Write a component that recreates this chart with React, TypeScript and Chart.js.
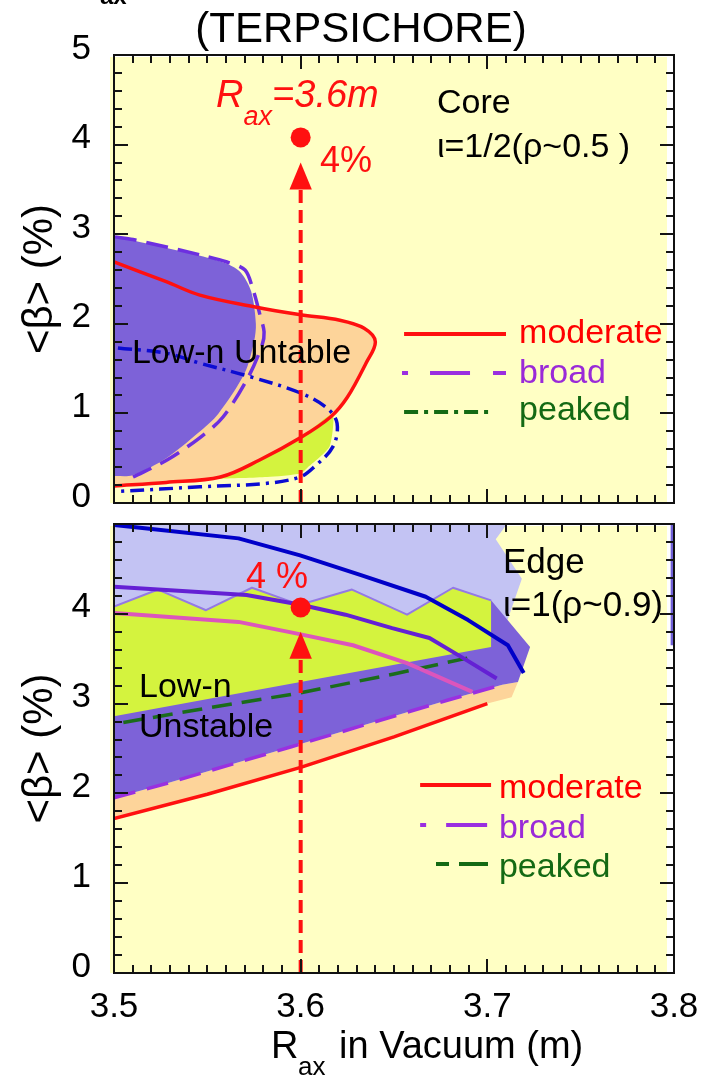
import React, { useEffect, useRef } from "react";
import { Chart, registerables } from "chart.js";

Chart.register(...registerables);

const FONT = "'Liberation Sans', Arial, Helvetica, sans-serif";

// ---------- axes ----------
const X_MIN = 3.5;
const X_MAX = 3.8;
const X_STEP = 0.1;
const X_MINOR = 0.01;
const Y_MIN = 0;
const Y_MAX = 5;
const Y_STEP = 1;
const Y_MINOR = 0.2;

// ---------- Core panel (top) ----------
const coreModerateX = [3.5, 3.528, 3.546, 3.575, 3.6, 3.621, 3.634, 3.64, 3.635, 3.625, 3.616, 3.6, 3.578, 3.557, 3.528, 3.5];
const coreModerateY = [2.69, 2.47, 2.32, 2.19, 2.1, 2.04, 1.95, 1.8, 1.56, 1.18, 0.96, 0.73, 0.48, 0.29, 0.23, 0.19];

const coreBroadRegionX = [3.5, 3.5102, 3.5461, 3.5605, 3.568, 3.5735, 3.576, 3.575, 3.57, 3.556, 3.545, 3.528, 3.51, 3.5];
const coreBroadRegionY = [2.97, 2.93, 2.76, 2.67, 2.57, 2.36, 2.0, 1.8, 1.45, 1.0, 0.78, 0.5, 0.31, 0.3];

const coreBroadX = [3.5005, 3.5102, 3.5461, 3.5605, 3.5702, 3.5745, 3.5782, 3.5804, 3.5793, 3.5718, 3.5584, 3.5461, 3.5284, 3.5102];
const coreBroadY = [2.97, 2.94, 2.77, 2.69, 2.6, 2.38, 2.1, 1.91, 1.76, 1.4, 0.96, 0.73, 0.48, 0.29];

const corePeakedRegionX = [3.555, 3.582, 3.6, 3.6035, 3.6155, 3.617, 3.6, 3.578, 3.557];
const corePeakedRegionY = [0.27, 0.29, 0.33, 0.39, 0.63, 0.99, 0.73, 0.48, 0.29];

const coreBoundaryX = [3.5021, 3.5284, 3.5461, 3.5729, 3.5996, 3.6141, 3.6195, 3.6173, 3.6066, 3.5996, 3.582, 3.5461, 3.5032];
const coreBoundaryY = [1.73, 1.67, 1.56, 1.41, 1.23, 1.06, 0.89, 0.63, 0.39, 0.29, 0.22, 0.18, 0.13];

// ---------- Edge panel (bottom) ----------
const edgeLavenderX = [3.5, 3.7105, 3.7045, 3.7185, 3.712, 3.705, 3.5];
const edgeLavenderY = [5.0, 5.0, 4.83, 4.39, 4.0, 3.6, 3.6];

const edgeSliverX = [3.7982, 3.8, 3.8, 3.7982];
const edgeSliverY = [5.0, 5.0, 3.65, 3.65];

const edgeZigzagX = [3.5, 3.5236, 3.5493, 3.5739, 3.5996, 3.6275, 3.657, 3.6816, 3.702];
const edgeZigzagY = [4.08, 4.27, 4.04, 4.29, 4.1, 4.27, 3.99, 4.29, 4.15];

const edgeBroadRightX = [3.7229, 3.7164];
const edgeBroadRightY = [3.63, 3.24];

const edgeBroadDashX = [3.5, 3.528, 3.595, 3.679, 3.708];
const edgeBroadDashY = [1.95, 2.11, 2.52, 3.04, 3.21];

const edgePeakedX = [3.505, 3.55, 3.6, 3.65, 3.69];
const edgePeakedY = [2.79, 2.95, 3.12, 3.33, 3.51];

const edgePeakedRegionCornerX = [3.702, 3.5];
const edgePeakedRegionCornerY = [3.63, 2.86];

const edgeModerateX = [3.5, 3.55, 3.6, 3.65, 3.7];
const edgeModerateY = [1.72, 1.99, 2.29, 2.63, 3.0];

const edgeOrangeRightX = [3.7164, 3.713];
const edgeOrangeRightY = [3.24, 3.07];

const edgeBlueX = [3.5, 3.5667, 3.5997, 3.6323, 3.667, 3.6897, 3.711, 3.7195];
const edgeBlueY = [4.99, 4.84, 4.65, 4.43, 4.19, 3.93, 3.65, 3.34];

const edgeBroadLineX = [3.5, 3.571, 3.6, 3.624, 3.649, 3.669, 3.686, 3.705];
const edgeBroadLineY = [4.3, 4.21, 4.1, 3.99, 3.84, 3.73, 3.52, 3.28];

const edgePinkX = [3.5, 3.5667, 3.5955, 3.628, 3.657, 3.692];
const edgePinkY = [4.01, 3.91, 3.79, 3.65, 3.45, 3.13];

// ---------- target markers (R_ax = 3.6 m, 4 %) ----------
const targetX = 3.6;
const coreDotY = 4.08;
const edgeDotY = 4.07;
const arrowTipY = 3.8;
const arrowBaseY = 3.5;
const arrowHalfW = 0.006;

// ---------- colours ----------
const BG = "#ffffc4";
const ORANGE = "#fdd49a";
const PURPLE_FILL = "#7d62d8";
const GREEN_FILL = "#d4f33e";
const LAVENDER = "#c3c3f3";
const RED = "#ff1010";
const NONE = "rgba(0,0,0,0)";

type P = { x: number; y: number };
const pts = (xs: number[], ys: number[]): P[] => xs.map((x, i) => ({ x, y: ys[i] }));

const region = (data: P[], color: string, order: number, tension = 0) => ({
  data,
  borderColor: NONE,
  borderWidth: 1,
  backgroundColor: color,
  fill: "shape",
  pointRadius: 0,
  tension,
  order,
});

const curve = (data: P[], color: string, width: number, dash: number[], order: number, tension = 0) => ({
  data,
  borderColor: color,
  borderWidth: width,
  borderDash: dash,
  borderJoinStyle: "round",
  backgroundColor: NONE,
  fill: false,
  pointRadius: 0,
  tension,
  order,
});

const dot = (y: number, order: number) => ({
  data: [{ x: targetX, y }],
  showLine: false,
  pointRadius: 10,
  pointBackgroundColor: RED,
  pointBorderColor: RED,
  pointBorderWidth: 0,
  fill: false,
  order,
});

const arrowHead = (order: number) =>
  region(
    pts([targetX - arrowHalfW, targetX, targetX + arrowHalfW], [arrowBaseY, arrowTipY, arrowBaseY]),
    RED,
    order
  );

const arrowShaft = (order: number) =>
  curve(pts([targetX, targetX], [Y_MIN, arrowBaseY]), RED, 4, [13, 7], order);

// ---------- text / legend helpers ----------
type Seg = { t: string; size: number; italic?: boolean; bold?: boolean; dy?: number };
type Note = { x: number; y: number; color: string; segs: Seg[] };
type LegendRow = { label: string; color: string; text: string; dash: number[]; y: number; ty: number; x0?: number; x1?: number };

function drawRich(ctx: CanvasRenderingContext2D, px: number, py: number, color: string, segs: Seg[]) {
  let cx = px;
  ctx.fillStyle = color;
  ctx.textAlign = "left";
  ctx.textBaseline = "alphabetic";
  for (const s of segs) {
    ctx.font = `${s.italic ? "italic " : ""}${s.bold ? "bold " : ""}${s.size}px ${FONT}`;
    ctx.fillText(s.t, cx, py + (s.dy || 0));
    cx += ctx.measureText(s.t).width;
  }
}

function drawFrameAndTicks(chart: any) {
  const ctx: CanvasRenderingContext2D = chart.ctx;
  const a = chart.chartArea;
  const sx = chart.scales.x;
  const sy = chart.scales.y;
  ctx.save();
  ctx.fillStyle = "#141414";
  const nx = Math.round((X_MAX - X_MIN) / X_MINOR);
  for (let i = 0; i <= nx; i++) {
    const px = Math.round(sx.getPixelForValue(X_MIN + i * X_MINOR));
    const len = i % 10 === 0 ? 14 : 8;
    ctx.fillRect(px - 1, a.bottom - len, 2, len);
    ctx.fillRect(px - 1, a.top, 2, len);
  }
  const ny = Math.round((Y_MAX - Y_MIN) / Y_MINOR);
  for (let i = 0; i <= ny; i++) {
    const py = Math.round(sy.getPixelForValue(Y_MIN + i * Y_MINOR));
    const len = i % 5 === 0 ? 14 : 8;
    ctx.fillRect(a.left, py - 1, len, 2);
    ctx.fillRect(a.right - len, py - 1, len, 2);
  }
  ctx.fillStyle = "#111";
  ctx.fillRect(a.left - 1, a.top - 1, a.right - a.left + 2, 2);
  ctx.fillRect(a.left - 1, a.bottom - 1, a.right - a.left + 2, 2);
  ctx.fillRect(a.left - 1, a.top - 1, 2, a.bottom - a.top + 2);
  ctx.fillRect(a.right - 1, a.top - 1, 2, a.bottom - a.top + 2);
  ctx.restore();
}

const bgPlugin = {
  id: "panelBg",
  beforeDatasetsDraw(chart: any) {
    const { ctx, chartArea: a } = chart;
    ctx.save();
    ctx.fillStyle = BG;
    ctx.fillRect(a.left - 4, a.top + 2, a.right - a.left - 3, a.bottom - a.top - 2);
    ctx.restore();
  },
};

function notesPlugin(notes: Note[], legend: LegendRow[], lx0: number, lx1: number, tx: number, extra?: (ctx: CanvasRenderingContext2D) => void) {
  return {
    id: "notes",
    afterDraw(chart: any) {
      const { ctx, scales } = chart;
      const X = (v: number) => scales.x.getPixelForValue(v);
      const Yp = (v: number) => scales.y.getPixelForValue(v);
      ctx.save();
      for (const n of notes) drawRich(ctx, X(n.x), Yp(n.y), n.color, n.segs);
      for (const r of legend) {
        ctx.save();
        ctx.strokeStyle = r.color;
        ctx.lineWidth = 4;
        ctx.lineCap = "butt";
        ctx.setLineDash(r.dash);
        ctx.beginPath();
        const y = Math.round(Yp(r.y));
        ctx.moveTo(X(r.x0 ?? lx0), y);
        ctx.lineTo(X(r.x1 ?? lx1), y);
        ctx.stroke();
        ctx.restore();
        drawRich(ctx, X(tx), Yp(r.ty), r.text, [{ t: r.label, size: 34 }]);
      }
      if (extra) extra(ctx);
      ctx.restore();
      drawFrameAndTicks(chart);
    },
  };
}

// annotation positions (data coordinates)
const coreNotes: Note[] = [
  { x: 3.5547, y: 4.42, color: RED, segs: [{ t: "R", size: 38, italic: true }, { t: "ax", size: 27, italic: true, dy: 18 }, { t: "=3.6m", size: 38, italic: true }] },
  { x: 3.6104, y: 3.69, color: RED, segs: [{ t: "4%", size: 36 }] },
  { x: 3.673, y: 4.35, color: "#000", segs: [{ t: "Core", size: 34 }] },
  { x: 3.673, y: 3.86, color: "#000", segs: [{ t: "ι=1/2(ρ~0.5 )", size: 34 }] },
  { x: 3.5096, y: 1.5625, color: "#000", segs: [{ t: "Low-n Untable", size: 34 }] },
];
const coreLegend: LegendRow[] = [
  { label: "moderate", color: RED, text: "#ff0000", dash: [], y: 1.886, ty: 1.786 },
  { label: "broad", color: "#9a2ee0", text: "#9a2ad8", dash: [6, 22, 40, 23, 40, 23], y: 1.451, ty: 1.339, x0: 3.6543 },
  { label: "peaked", color: "#146a14", text: "#146a14", dash: [14, 6, 4, 6], y: 1.016, ty: 0.926, x1: 3.7035 },
];

const edgeNotes: Note[] = [
  { x: 3.5707, y: 4.29, color: RED, segs: [{ t: "4 %", size: 36 }] },
  { x: 3.7084, y: 4.45, color: "#000", segs: [{ t: "Edge", size: 35 }] },
  { x: 3.7084, y: 3.975, color: "#000", segs: [{ t: "ι=1(ρ~0.9)", size: 35 }] },
  { x: 3.5134, y: 3.07, color: "#000", segs: [{ t: "Low-n", size: 34 }] },
  { x: 3.5134, y: 2.63, color: "#000", segs: [{ t: "Unstable", size: 34 }] },
];
const edgeLegend: LegendRow[] = [
  { label: "moderate", color: RED, text: "#ff0000", dash: [], y: 2.094, ty: 1.949 },
  { label: "broad", color: "#9a2ee0", text: "#9a2ad8", dash: [6, 20, 41, 100], y: 1.648, ty: 1.503, x1: 3.7 },
  { label: "peaked", color: "#146a14", text: "#146a14", dash: [13, 10, 29, 100], y: 1.214, ty: 1.069, x0: 3.6725, x1: 3.7005 },
];

function baseOptions(showX: boolean, padTop: number, xHeight: number, yTickCb: (v: number) => string) {
  return {
    responsive: false,
    animation: false as const,
    events: [],
    layout: { padding: { top: padTop, right: 30, left: 0, bottom: showX ? 0 : 1078 - 503 - xHeight } },
    plugins: { legend: { display: false }, tooltip: { enabled: false }, title: { display: false } },
    scales: {
      x: {
        type: "linear" as const,
        min: X_MIN,
        max: X_MAX,
        grid: { display: false },
        border: { display: false },
        ticks: {
          display: showX,
          stepSize: X_STEP,
          padding: 5,
          color: "#000",
          font: { family: FONT, size: 35, lineHeight: 1.2 },
          callback: (v: any) => Number(v).toFixed(1),
        },
        afterFit: (s: any) => {
          s.height = xHeight;
        },
      },
      y: {
        type: "linear" as const,
        min: Y_MIN,
        max: Y_MAX,
        grid: { display: false },
        border: { display: false },
        title: {
          display: true,
          text: "<β> (%)",
          color: "#000",
          font: { family: FONT, size: 42, lineHeight: 1.2 },
          padding: { top: 15, bottom: 0 },
        },
        ticks: {
          stepSize: Y_STEP,
          padding: 15,
          labelOffset: -6,
          color: "#000",
          font: { family: FONT, size: 35, lineHeight: 1.2 },
          callback: (v: any) => yTickCb(Number(v)),
        },
        afterFit: (s: any) => {
          s.width = 114;
        },
      },
    },
  };
}

function coreConfig(): any {
  const datasets = [
    dot(coreDotY, 0),
    arrowHead(1),
    arrowShaft(2),
    curve(pts(coreModerateX, coreModerateY), RED, 3.5, [], 3, 0.35),
    curve(pts(coreBoundaryX, coreBoundaryY), "#0c0cd2", 3.5, [14, 6, 3, 6], 4, 0.35),
    curve(pts(coreBroadX, coreBroadY), "#6d2fe0", 3.5, [22, 10], 5, 0.3),
    region(pts(corePeakedRegionX, corePeakedRegionY), GREEN_FILL, 10, 0.2),
    region(pts(coreBroadRegionX, coreBroadRegionY), PURPLE_FILL, 11, 0.3),
    region(pts(coreModerateX, coreModerateY), ORANGE, 12, 0.35),
  ];
  const extra = (ctx: CanvasRenderingContext2D) => {
    ctx.fillStyle = "#000";
    ctx.textAlign = "center";
    ctx.textBaseline = "alphabetic";
    ctx.font = `42px ${FONT}`;
    ctx.fillText("(TERPSICHORE)", 361, 42);
    ctx.textAlign = "left";
    ctx.font = `bold 24px ${FONT}`;
    ctx.fillText("ax", 100, 4);
  };
  return {
    type: "line",
    data: { datasets },
    options: baseOptions(false, 55, 0, (v) => String(v)),
    plugins: [bgPlugin, notesPlugin(coreNotes, coreLegend, 3.6554, 3.71, 3.717, extra)],
  };
}

function edgeConfig(): any {
  const purpleX = [...edgeZigzagX, ...edgeBroadRightX, ...[...edgeBroadDashX].reverse()];
  const purpleY = [...edgeZigzagY, ...edgeBroadRightY, ...[...edgeBroadDashY].reverse()];
  const greenX = [...edgeZigzagX, ...edgePeakedRegionCornerX];
  const greenY = [...edgeZigzagY, ...edgePeakedRegionCornerY];
  const orangeX = [...edgeBroadDashX, ...edgeOrangeRightX, ...[...edgeModerateX].reverse()];
  const orangeY = [...edgeBroadDashY, ...edgeOrangeRightY, ...[...edgeModerateY].reverse()];
  const datasets = [
    dot(edgeDotY, 0),
    arrowHead(1),
    arrowShaft(2),
    curve(pts(edgeBlueX, edgeBlueY), "#0000c8", 4, [], 3),
    curve(pts(edgeBroadLineX, edgeBroadLineY), "#6420d4", 4, [], 4),
    curve(pts(edgePinkX, edgePinkY), "#dc55bc", 4, [], 5),
    curve(pts(edgeModerateX, edgeModerateY), RED, 3.5, [], 6),
    curve(pts(edgePeakedX, edgePeakedY), "#1b6b1b", 3.5, [20, 10], 7),
    curve(pts(edgeBroadDashX, edgeBroadDashY), "#9a30e0", 3.5, [22, 12], 8),
    curve(pts(edgeZigzagX, edgeZigzagY), "#9479e4", 2, [], 9),
    region(pts(greenX, greenY), GREEN_FILL, 10),
    region(pts(purpleX, purpleY), PURPLE_FILL, 11),
    region(pts(orangeX, orangeY), ORANGE, 12),
    region(pts(edgeSliverX, edgeSliverY), "#6f5fd6", 13),
    region(pts(edgeLavenderX, edgeLavenderY), LAVENDER, 14),
  ];
  const extra = (ctx: CanvasRenderingContext2D) => {
    ctx.fillStyle = "#000";
    ctx.textAlign = "left";
    ctx.textBaseline = "alphabetic";
    ctx.font = `38px ${FONT}`;
    ctx.fillText("R", 271, 1058);
    ctx.font = `26px ${FONT}`;
    ctx.fillText("ax", 298, 1075);
    ctx.font = `38px ${FONT}`;
    ctx.fillText("in Vacuum (m)", 339, 1058);
  };
  return {
    type: "line",
    data: { datasets },
    options: baseOptions(true, 524, 105, (v) => (v === 5 ? "" : String(v))),
    plugins: [bgPlugin, notesPlugin(edgeNotes, edgeLegend, 3.664, 3.702, 3.7062, extra)],
  };
}

function Panel({ make }: { make: () => any }) {
  const ref = useRef<HTMLCanvasElement | null>(null);
  useEffect(() => {
    if (!ref.current) return;
    const chart = new Chart(ref.current, make());
    return () => chart.destroy();
  }, [make]);
  return (
    <canvas
      ref={ref}
      width={704}
      height={1078}
      style={{ position: "absolute", left: 0, top: 0, width: 704, height: 1078, display: "block" }}
    />
  );
}

export default function App() {
  Chart.defaults.font.family = FONT;
  return (
    <div style={{ position: "absolute", left: 0, top: 0, width: 704, height: 1078, background: "#fff", overflow: "hidden" }}>
      <Panel make={coreConfig} />
      <Panel make={edgeConfig} />
    </div>
  );
}
